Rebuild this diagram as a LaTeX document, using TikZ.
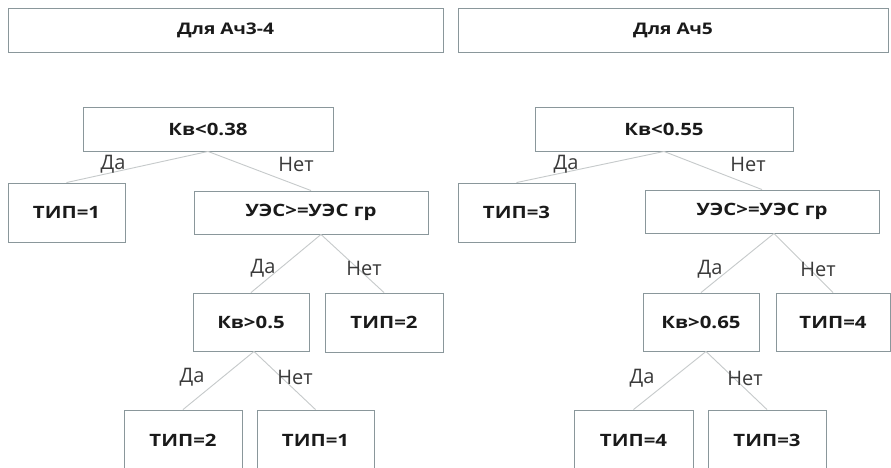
\documentclass[tikz,border=0pt]{standalone}
\usepackage{fontspec}
\setmainfont{Open Sans}
\newfontfamily\bx{Open Sans}[FakeStretch=1.2]
\definecolor{bordc}{HTML}{8A979B}
\definecolor{linec}{HTML}{C6CACB}
\definecolor{txtc}{HTML}{1A1A1A}
\definecolor{labc}{HTML}{3A3A3A}
\tikzset{
  box/.style={draw=bordc, line width=0.9pt, fill=white, inner sep=0pt, text=txtc,
    font=\bx\bfseries\fontsize{17}{20}\selectfont},
  head/.style={box, font=\bx\bfseries\fontsize{16}{19}\selectfont},
  conn/.style={draw=linec, line width=0.9pt},
  lab/.style={text=labc, inner sep=0pt, font=\fontsize{20}{24}\selectfont}
}
\begin{document}
\begin{tikzpicture}[x=1pt,y=-1pt]
\useasboundingbox (0,0) rectangle (891,467);
\clip (0,0) rectangle (891,467);
\fill[white] (0,0) rectangle (891,467);
% headers
\node[head, minimum width=435, minimum height=44] (hL) at (225.5,30) {Для Ач3-4};
\node[head, minimum width=430, minimum height=44] (hR) at (673,30) {Для Ач5};
% left tree
\node[box, minimum width=250, minimum height=44] (a1) at (208,129) {Кв<0.38};
\node[box, minimum width=117, minimum height=59] (a2) at (66.5,212.5) {ТИП=1};
\node[box, minimum width=234, minimum height=43] (a3) at (311,212.5) {УЭС>=УЭС гр};
\node[box, minimum width=116, minimum height=58] (a4) at (251,322) {Кв>0.5};
\node[box, minimum width=118, minimum height=59] (a5) at (384,322.5) {ТИП=2};
\node[box, minimum width=118, minimum height=60] (a6) at (183,440) {ТИП=2};
\node[box, minimum width=117, minimum height=60] (a7) at (315.5,440) {ТИП=1};
% right tree
\node[box, minimum width=258, minimum height=44] (b1) at (664,129) {Кв<0.55};
\node[box, minimum width=117, minimum height=59] (b2) at (516.5,212.5) {ТИП=3};
\node[box, minimum width=234, minimum height=43] (b3) at (762,211.5) {УЭС>=УЭС гр};
\node[box, minimum width=116, minimum height=58] (b4) at (701,322) {Кв>0.65};
\node[box, minimum width=114, minimum height=58] (b5) at (833,322) {ТИП=4};
\node[box, minimum width=119, minimum height=60] (b6) at (633.5,440) {ТИП=4};
\node[box, minimum width=118, minimum height=60] (b7) at (767,440) {ТИП=3};
% connectors
\draw[conn] (a1.south) -- (a2.north);
\draw[conn] (a1.south) -- (a3.north);
\draw[conn] ([xshift=10pt]a3.south) -- (a4.north);
\draw[conn] ([xshift=10pt]a3.south) -- (a5.north);
\draw[conn] ([xshift=3pt]a4.south) -- (a6.north);
\draw[conn] ([xshift=3pt]a4.south) -- (a7.north);
\draw[conn] (b1.south) -- (b2.north);
\draw[conn] (b1.south) -- (b3.north);
\draw[conn] ([xshift=12pt]b3.south) -- (b4.north);
\draw[conn] ([xshift=12pt]b3.south) -- (b5.north);
\draw[conn] ([xshift=5pt]b4.south) -- (b6.north);
\draw[conn] ([xshift=5pt]b4.south) -- (b7.north);
% labels
\node[lab] (la1) at (113,164) {Да};
\node[lab] (la2) at (296,164) {Нет};
\node[lab] (la3) at (263,268) {Да};
\node[lab] (la4) at (364,268) {Нет};
\node[lab] (la5) at (192,377) {Да};
\node[lab] (la6) at (295,377) {Нет};
\node[lab] (lb1) at (566,164) {Да};
\node[lab] (lb2) at (748,164) {Нет};
\node[lab] (lb3) at (710,269) {Да};
\node[lab] (lb4) at (818,269) {Нет};
\node[lab] (lb5) at (642,378) {Да};
\node[lab] (lb6) at (745,378) {Нет};
\end{tikzpicture}
\end{document}
